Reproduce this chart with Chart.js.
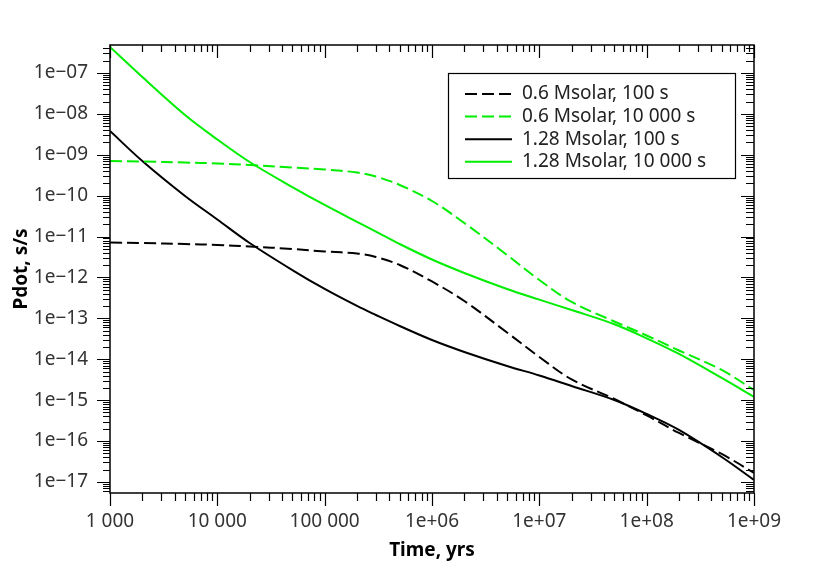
<!DOCTYPE html>
<html>
<head>
<meta charset="utf-8">
<script src="https://cdn.jsdelivr.net/npm/chart.js@4"></script>
<style>
  html, body { margin: 0; padding: 0; background: #fff; }
  #wrap { width: 830px; height: 578px; }
</style>
</head>
<body>
<div id="wrap"><canvas id="chart" width="830" height="578"></canvas></div>
<script>
// time axis, years
const years = [1e3, 2e3, 5e3, 1e4, 2e4, 5e4, 1e5, 2e5, 3e5, 5e5, 1e6, 2e6, 5e6, 1e7, 2e7, 5e7, 1e8, 2e8, 5e8, 1e9];

// Pdot, s/s
const m06p100 = [7.18e-12, 6.98e-12, 6.59e-12, 6.23e-12, 5.73e-12, 4.98e-12, 4.32e-12, 3.86e-12, 3.17e-12, 2.02e-12,
  7.98e-13, 2.66e-13, 4.52e-14, 1.14e-14, 3.21e-15, 1.07e-15, 4.23e-16, 1.58e-16, 4.84e-17, 1.66e-17];
const m06p10000 = [7.05e-10, 6.86e-10, 6.48e-10, 6.13e-10, 5.63e-10, 4.89e-10, 4.37e-10, 3.69e-10, 2.94e-10, 1.83e-10,
  7.42e-11, 2.15e-11, 3.55e-12, 8.69e-13, 2.52e-13, 8.40e-14, 3.82e-14, 1.64e-14, 5.47e-15, 1.77e-15];
const m128p100 = [3.82e-9, 7.05e-10, 9.84e-11, 2.62e-11, 6.98e-12, 1.52e-12, 5.23e-13, 2.01e-13, 1.21e-13, 6.52e-14,
  2.96e-14, 1.51e-14, 6.85e-15, 4.02e-15, 2.22e-15, 1.01e-15, 4.60e-16, 1.87e-16, 4.08e-17, 1.12e-17];
const m128p10000 = [4.33e-7, 7.99e-8, 9.40e-9, 2.37e-9, 6.67e-10, 1.63e-10, 5.93e-11, 2.30e-11, 1.33e-11, 6.59e-12,
  2.75e-12, 1.29e-12, 5.23e-13, 2.87e-13, 1.60e-13, 7.18e-14, 3.26e-14, 1.35e-14, 3.49e-15, 1.20e-15];

const seriesNames = ['0.6 Msolar, 100 s', '0.6 Msolar, 10 000 s', '1.28 Msolar, 100 s', '1.28 Msolar, 10 000 s'];

const xTickValues = [1e3, 1e4, 1e5, 1e6, 1e7, 1e8, 1e9];
const xTickLabels = ['1 000', '10 000', '100 000', '1e+06', '1e+07', '1e+08', '1e+09'];
const yTickValues = [1e-17, 1e-16, 1e-15, 1e-14, 1e-13, 1e-12, 1e-11, 1e-10, 1e-9, 1e-8, 1e-7];
const yTickLabels = ['1e\u221217', '1e\u221216', '1e\u221215', '1e\u221214', '1e\u221213', '1e\u221212',
  '1e\u221211', '1e\u221210', '1e\u221209', '1e\u221208', '1e\u221207'];

const GREEN = '#00ee00';
const FONT = "'Noto Sans', sans-serif";

Chart.defaults.font.family = FONT;
Chart.defaults.font.size = 19;
Chart.defaults.color = '#333';

function toPoints(vals) {
  return years.map((x, i) => ({ x: x, y: vals[i] }));
}

function line(label, vals, colour, dashed) {
  return {
    label: label,
    data: toPoints(vals),
    borderColor: colour,
    backgroundColor: colour,
    borderWidth: 2,
    borderDash: dashed ? [12, 5] : [],
    pointRadius: 0,
    tension: 0.35,
    fill: false,
  };
}

// box round the plot + log ticks (outside on left/bottom, inside on top/right)
const frameTicks = {
  id: 'frameTicks',
  afterDraw(chart) {
    const { ctx, chartArea: a, scales: { x, y } } = chart;
    ctx.save();
    ctx.strokeStyle = '#000';
    ctx.lineWidth = 1.5;
    ctx.strokeRect(a.left, a.top, a.right - a.left, a.bottom - a.top);
    ctx.beginPath();
    for (let e = 3; e <= 9; e++) {
      for (let m = 1; m <= 9; m++) {
        const v = m * Math.pow(10, e);
        if (v > x.max * 1.0001) break;
        const px = Math.round(x.getPixelForValue(v)) + 0.5;
        const len = m === 1 ? 13 : 8;
        ctx.moveTo(px, a.bottom); ctx.lineTo(px, a.bottom + len);
        ctx.moveTo(px, a.top); ctx.lineTo(px, a.top + (m === 1 ? 13 : 7));
      }
    }
    for (let e = -18; e <= -7; e++) {
      for (let m = 1; m <= 9; m++) {
        const v = m * Math.pow(10, e);
        if (v < y.min || v > y.max) continue;
        const py = Math.round(y.getPixelForValue(v)) + 0.5;
        const len = m === 1 ? 13 : 7;
        ctx.moveTo(a.left, py); ctx.lineTo(a.left - len, py);
        ctx.moveTo(a.right, py); ctx.lineTo(a.right - (m === 1 ? 13 : 8), py);
      }
    }
    ctx.lineWidth = 1.2;
    ctx.stroke();
    ctx.restore();
  }
};

// legend box in the upper right of the plot
const boxLegend = {
  id: 'boxLegend',
  afterDraw(chart) {
    const { ctx, chartArea: a } = chart;
    const left = a.right - 306, top = a.top + 28, w = 287, h = 105;
    ctx.save();
    ctx.fillStyle = '#fff';
    ctx.fillRect(left, top, w, h);
    ctx.strokeStyle = '#000';
    ctx.lineWidth = 1.2;
    ctx.strokeRect(left + 0.5, top + 0.5, w, h);
    ctx.font = '19px ' + FONT;
    ctx.textBaseline = 'middle';
    ctx.textAlign = 'left';
    chart.data.datasets.forEach((ds, i) => {
      const cy = top + 21 + i * 22.6;
      ctx.beginPath();
      ctx.setLineDash(ds.borderDash);
      ctx.strokeStyle = ds.borderColor;
      ctx.lineWidth = 2;
      ctx.moveTo(left + 17, cy);
      ctx.lineTo(left + 64, cy);
      ctx.stroke();
      ctx.setLineDash([]);
      ctx.fillStyle = '#222';
      ctx.fillText(ds.label, left + 74, cy);
    });
    ctx.restore();
  }
};

new Chart(document.getElementById('chart'), {
  type: 'line',
  data: {
    datasets: [
      line(seriesNames[0], m06p100, '#000', true),
      line(seriesNames[1], m06p10000, GREEN, true),
      line(seriesNames[2], m128p100, '#000', false),
      line(seriesNames[3], m128p10000, GREEN, false),
    ]
  },
  options: {
    responsive: false,
    animation: false,
    layout: { padding: { left: 0, top: 45, right: 76, bottom: 0 } },
    plugins: {
      legend: { display: false },
      tooltip: { enabled: false },
    },
    scales: {
      x: {
        type: 'logarithmic',
        min: 1e3,
        max: 1e9,
        grid: { display: false, drawTicks: false },
        border: { display: false },
        afterBuildTicks: (scale) => { scale.ticks = xTickValues.map(v => ({ value: v })); },
        afterFit: (scale) => { scale.height = 85; },
        ticks: {
          autoSkip: false,
          maxRotation: 0,
          padding: 17,
          callback: (v, i) => xTickLabels[i],
        },
        title: {
          display: true,
          text: 'Time, yrs',
          color: '#000',
          font: { weight: 'bold', size: 19 },
          padding: { top: 0, bottom: 16 },
        },
      },
      y: {
        type: 'logarithmic',
        min: 5.37e-18,
        max: 4.84e-7,
        grid: { display: false, drawTicks: false },
        border: { display: false },
        afterBuildTicks: (scale) => { scale.ticks = yTickValues.map(v => ({ value: v })); },
        afterFit: (scale) => { scale.width = 110; },
        ticks: {
          autoSkip: false,
          padding: 22,
          callback: (v, i) => yTickLabels[i],
        },
        title: {
          display: true,
          text: 'Pdot, s/s',
          color: '#000',
          font: { weight: 'bold', size: 19 },
          padding: { top: 10, bottom: 0 },
        },
      },
    },
  },
  plugins: [frameTicks, boxLegend],
});
</script>
</body>
</html>
